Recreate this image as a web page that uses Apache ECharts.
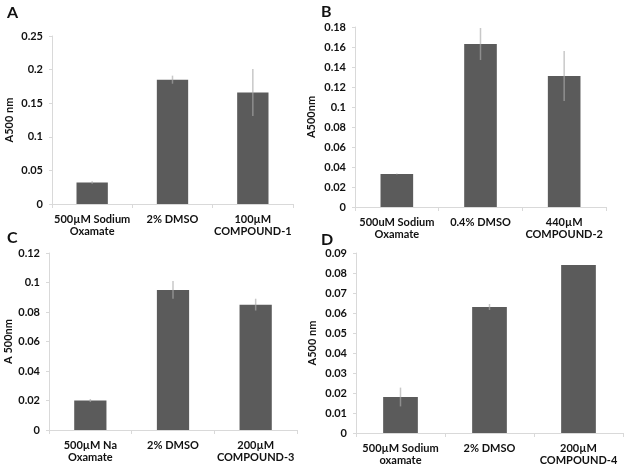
<!DOCTYPE html>
<html>
<head>
<meta charset="utf-8">
<script src="https://cdn.jsdelivr.net/npm/echarts@6/dist/echarts.min.js"></script>
<style>html,body{margin:0;padding:0;background:#fff}#c{width:627px;height:471px}</style>
</head>
<body>
<div id="c"></div>
<script>
// ---- data ----
var catsA = ['500µM Sodium\nOxamate', '2% DMSO', '100µM\nCOMPOUND-1'];
var valsA = [0.032, 0.185, 0.166];
var errA  = [0.002, 0.006, 0.035];

var catsB = ['500uM Sodium\nOxamate', '0.4% DMSO', '440µM\nCOMPOUND-2'];
var valsB = [0.033, 0.163, 0.131];
var errB  = [0.0005, 0.016, 0.025];

var catsC = ['500µM Na\nOxamate', '2% DMSO', '200µM\nCOMPOUND-3'];
var valsC = [0.020, 0.095, 0.085];
var errC  = [0.001, 0.006, 0.004];

var catsD = ['500µM Sodium\noxamate', '2% DMSO', '200µM\nCOMPOUND-4'];
var valsD = [0.018, 0.063, 0.084];
var errD  = [0.0047, 0.0015, 0];

var yNames = ['A500 nm', 'A500nm', 'A 500nm', 'A500 nm'];
var yMax = [0.25, 0.18, 0.12, 0.09];
var yInt = [0.05, 0.02, 0.02, 0.01];
var letters = ['A', 'B', 'C', 'D'];

// ---- layout ----
var FONT = 'Lato, "Open Sans", sans-serif';
var grids = [
  {left: 52, top: 36, width: 241, height: 168},
  {left: 355, top: 27, width: 251, height: 180},
  {left: 49, top: 253, width: 248, height: 177},
  {left: 356, top: 253, width: 267, height: 180}
];
var nameGaps = [37, 38, 34, 38];
var letterPos = [[7, 5], [321, 4], [7, 230], [321, 232]];

var cats = [catsA, catsB, catsC, catsD];
var vals = [valsA, valsB, valsC, valsD];
var errs = [errA, errB, errC, errD];

var xAxes = [], yAxes = [], series = [], graphics = [];
for (var i = 0; i < 4; i++) {
  xAxes.push({
    type: 'category', gridIndex: i, data: cats[i],
    axisLine: {lineStyle: {color: '#d9d9d9', width: 1}},
    axisTick: {show: true, length: 4, lineStyle: {color: '#d9d9d9'}},
    axisLabel: {color: '#111', fontFamily: FONT, fontWeight: 'bold', fontSize: 11, lineHeight: 12, margin: 9, interval: 0}
  });
  yAxes.push({
    type: 'value', gridIndex: i, min: 0, max: yMax[i], interval: yInt[i],
    name: yNames[i], nameLocation: 'middle', nameGap: nameGaps[i],
    nameTextStyle: {color: '#111', fontFamily: FONT, fontWeight: 'bold', fontSize: 11},
    axisLine: {show: true, lineStyle: {color: '#d9d9d9', width: 1}},
    axisTick: {show: true, length: 3, lineStyle: {color: '#d9d9d9'}},
    splitLine: {show: false},
    axisLabel: {color: '#111', fontFamily: FONT, fontWeight: 'bold', fontSize: 11, margin: 9,
      formatter: function (v) { return String(+v.toFixed(4)); }}
  });
  series.push({
    type: 'bar', xAxisIndex: i, yAxisIndex: i, data: vals[i],
    barWidth: '39%', itemStyle: {color: '#5b5b5b'}, silent: true, z: 2
  });
  (function (idx) {
    var d = vals[idx].map(function (v, k) { return [k, v - errs[idx][k], v + errs[idx][k]]; });
    series.push({
      type: 'custom', xAxisIndex: idx, yAxisIndex: idx, data: d, z: 5, silent: true,
      renderItem: function (params, api) {
        var lo = api.coord([api.value(0), api.value(1)]);
        var hi = api.coord([api.value(0), api.value(2)]);
        if (Math.abs(hi[1] - lo[1]) < 0.5) return null;
        return {
          type: 'line',
          shape: {x1: lo[0], y1: lo[1], x2: hi[0], y2: hi[1]},
          style: {stroke: 'rgba(170,170,170,0.65)', lineWidth: 1.5}
        };
      }
    });
  })(i);
  graphics.push({
    type: 'text', left: letterPos[i][0], top: letterPos[i][1],
    style: {text: letters[i], fill: '#111', font: 'bold 16px ' + FONT}
  });
}

var chart = echarts.init(document.getElementById('c'), null, {renderer: 'canvas'});
chart.setOption({
  animation: false,
  backgroundColor: '#fff',
  grid: grids,
  xAxis: xAxes,
  yAxis: yAxes,
  series: series,
  graphic: graphics
});
</script>
</body>
</html>
